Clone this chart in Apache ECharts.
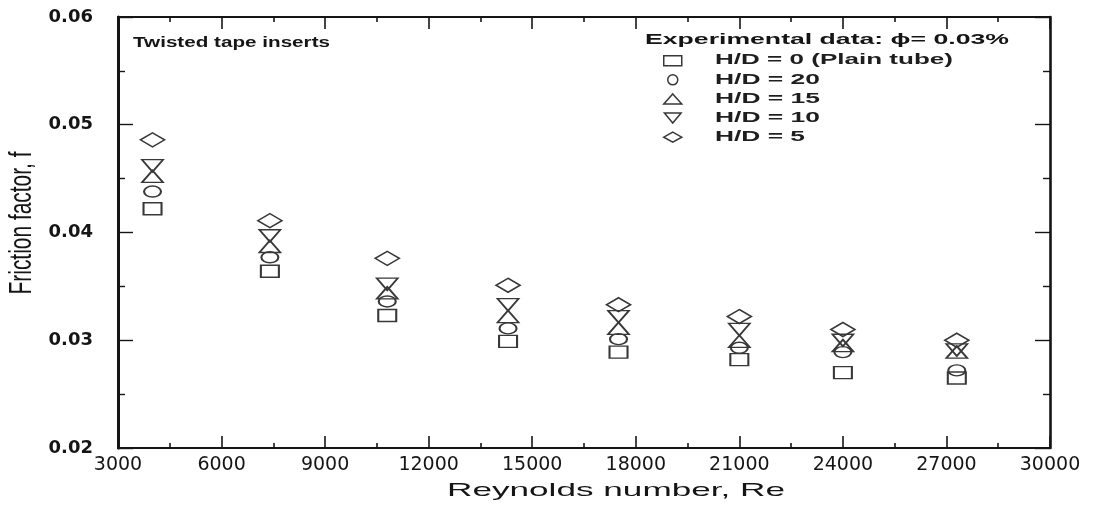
<!DOCTYPE html>
<html>
<head>
<meta charset="utf-8">
<script src="https://cdn.jsdelivr.net/npm/echarts@6/dist/echarts.min.js"></script>
<style>
  html, body { margin: 0; padding: 0; background: #ffffff; }
  #chart { width: 1099px; height: 508px; }
</style>
</head>
<body>
<div id="chart"></div>
<script>
// Reynolds number of each measurement group
const reynolds = [4000, 7400, 10800, 14300, 17500, 21000, 24000, 27300];

// Friction factor for each twist ratio
const fPlainTube = [0.0422, 0.0364, 0.0323, 0.0299, 0.0289, 0.0282, 0.0270, 0.0265];
const fHD20      = [0.0438, 0.0377, 0.0336, 0.0311, 0.0301, 0.0293, 0.0289, 0.0272];
const fHD15      = [0.0452, 0.0387, 0.0344, 0.0322, 0.0311, 0.0299, 0.0295, 0.0289];
const fHD10      = [0.0462, 0.0397, 0.0352, 0.0333, 0.0322, 0.0310, 0.0300, 0.0291];
const fHD5       = [0.0486, 0.0411, 0.0376, 0.0351, 0.0333, 0.0322, 0.0310, 0.0300];

const seriesNames = ['H/D = 0 (Plain tube)', 'H/D = 20', 'H/D = 15', 'H/D = 10', 'H/D = 5'];

// Axis ticks
const xTicks = [3000, 6000, 9000, 12000, 15000, 18000, 21000, 24000, 27000, 30000];
const yTicks = [0.02, 0.03, 0.04, 0.05, 0.06];

const titleInPlot = 'Twisted tape inserts';
const legendTitle = 'Experimental data: \u03D5= 0.03%';
const xAxisTitle = 'Reynolds number, Re';
const yAxisTitle = 'Friction factor, f';

const INK = '#151515';
const MARK = '#383838';
const DOWN_TRIANGLE = 'path://M0,0 L20,0 L10,12 Z';

const symbols = ['rect', 'circle', 'triangle', DOWN_TRIANGLE, 'diamond'];
const symbolSizes = [[18, 12], [17, 11], [21, 12], [21, 12], [24, 14]];
const valueSets = [fPlainTube, fHD20, fHD15, fHD10, fHD5];

// Text measured once so that it can be stretched to the wide lettering of the plot
const measureCtx = document.createElement('canvas').getContext('2d');
function textWidth(text, font) {
  measureCtx.font = font;
  return measureCtx.measureText(text).width;
}
function wideText(text, opt) {
  const font = (opt.bold ? 'bold ' : '') + opt.size + 'px "Liberation Sans"';
  const natural = textWidth(text, font);
  const stretch = opt.width / natural;
  return {
    type: 'text',
    x: opt.x,
    y: opt.y,
    rotation: opt.rotation || 0,
    scaleX: stretch,
    scaleY: opt.cross || 1,
    silent: true,
    z: 10,
    style: {
      text: text,
      font: font,
      fill: opt.color || INK,
      align: opt.align || 'left',
      verticalAlign: 'middle'
    }
  };
}

const chart = echarts.init(document.getElementById('chart'), null, { renderer: 'canvas' });

const series = seriesNames.map((name, i) => ({
  name: name,
  type: 'scatter',
  xAxisIndex: 0,
  yAxisIndex: 0,
  symbol: symbols[i],
  symbolSize: symbolSizes[i],
  itemStyle: { color: 'transparent', borderColor: MARK, borderWidth: 1.7, opacity: 1 },
  emphasis: { disabled: true },
  data: reynolds.map((re, k) => [re, valueSets[i][k]])
}));

const xRange = { min: xTicks[0], max: xTicks[xTicks.length - 1], interval: xTicks[1] - xTicks[0] };
const yRange = { min: yTicks[0], max: yTicks[yTicks.length - 1], interval: 0.01 };

const xCommon = {
  type: 'value',
  min: xRange.min, max: xRange.max, interval: xRange.interval,
  splitLine: { show: false },
  axisLine: { show: true, onZero: false, lineStyle: { color: INK, width: 2 } },
  axisTick: { show: true, inside: true, length: 12, lineStyle: { color: INK, width: 1.6 } },
  minorTick: { show: true, splitNumber: 2, length: 5, lineStyle: { color: INK, width: 1.6 } },
  minorSplitLine: { show: false }
};
const yCommon = {
  type: 'value',
  min: yRange.min, max: yRange.max, interval: yRange.interval,
  splitLine: { show: false },
  axisLine: { show: true, onZero: false, lineStyle: { color: INK, width: 2.6 } },
  axisTick: { show: true, inside: true, length: 15, lineStyle: { color: INK, width: 1.4 } },
  minorTick: { show: true, splitNumber: 2, length: 7, lineStyle: { color: INK, width: 1.4 } },
  minorSplitLine: { show: false }
};

const legendRows = [60, 79.3, 98.6, 117.9, 137.2];
const legendLabelWidths = [238, 105, 105, 105, 90];

const graphics = [
  wideText(titleInPlot, { x: 133, y: 43, size: 15.5, bold: true, width: 197 }),
  wideText(legendTitle, { x: 645, y: 40, size: 15, bold: true, width: 364 }),
  wideText(xAxisTitle, { x: 616, y: 491, size: 19, width: 338, align: 'center' }),
  wideText(yAxisTitle, { x: 22, y: 223, size: 20, width: 143, align: 'center', rotation: Math.PI / 2, cross: 1.55 })
].concat(seriesNames.map((name, i) =>
  wideText(name, { x: 715, y: legendRows[i], size: 15.5, bold: true, width: legendLabelWidths[i], color: '#1e1e1e' })
));

chart.setOption({
  animation: false,
  backgroundColor: '#ffffff',
  grid: { left: 118, right: 49, top: 17, bottom: 60, containLabel: false },
  legend: {
    show: true,
    orient: 'vertical',
    left: 663,
    top: 55,
    padding: 0,
    itemWidth: 18,
    itemHeight: 10,
    itemGap: 7.6,
    selectedMode: false,
    formatter: () => '',
    textStyle: { fontSize: 1, padding: 0 },
    itemStyle: { color: 'transparent', borderColor: MARK, borderWidth: 1.5 },
    data: seriesNames.map((name, i) => ({ name: name, icon: symbols[i] }))
  },
  xAxis: [
    Object.assign({}, xCommon, {
      position: 'bottom',
      axisLabel: {
        show: true, margin: 8, color: INK,
        fontFamily: 'DejaVu Sans', fontSize: 19,
        formatter: v => String(v)
      }
    }),
    Object.assign({}, xCommon, { position: 'top', axisLabel: { show: false } })
  ],
  yAxis: [
    Object.assign({}, yCommon, {
      position: 'left',
      axisLine: { show: true, onZero: false, lineStyle: { color: INK, width: 3 } },
      axisLabel: {
        show: true, margin: 25, color: INK,
        fontFamily: 'DejaVu Sans', fontWeight: 'bold', fontSize: 18,
        formatter: v => v.toFixed(2)
      }
    }),
    Object.assign({}, yCommon, { position: 'right', axisLabel: { show: false } })
  ],
  graphic: graphics,
  series: series
});
</script>
</body>
</html>
